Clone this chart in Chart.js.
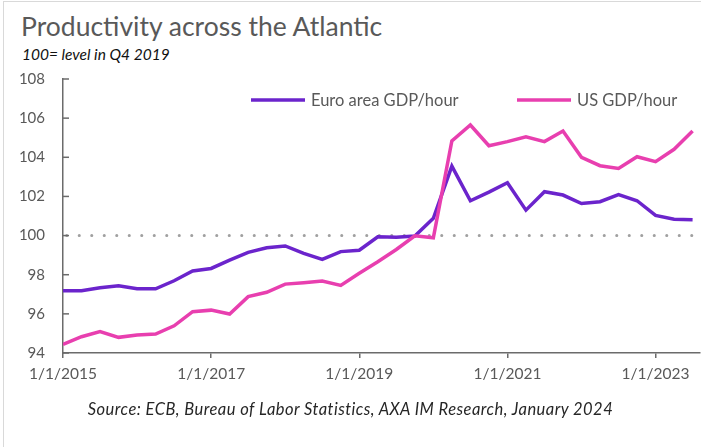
<!DOCTYPE html>
<html>
<head>
<meta charset="utf-8">
<script src="https://cdn.jsdelivr.net/npm/chart.js@4/dist/chart.umd.min.js"></script>
<style>
  body { margin: 0; background: #fff; font-family: Lato, "Liberation Sans", sans-serif; }
  #wrap { position: relative; width: 701px; height: 447px; overflow: hidden; }
  #frame { position: absolute; left: 3px; top: 1px; width: 720px; height: 460px; border: 1px solid #d9d9d9; }
  #title { position: absolute; left: 21px; top: 10px; font-size: 26.5px; color: #595959; white-space: nowrap; }
  #subtitle { position: absolute; left: 22px; top: 45px; font-size: 15.5px; font-style: italic; color: #111; white-space: nowrap; }
  #source { position: absolute; left: 0; width: 701px; top: 399px; text-align: center; font-size: 16.5px; letter-spacing: 0.45px; font-style: italic; color: #262626; white-space: nowrap; }
  canvas { position: absolute; left: 0; top: 0; }
</style>
</head>
<body>
<div id="wrap">
  <div id="frame"></div>
  <div id="title">Productivity across the Atlantic</div>
  <div id="subtitle">100= level in Q4 2019</div>
  <canvas id="chart" width="701" height="447"></canvas>
  <div id="source">Source: ECB, Bureau of Labor Statistics, AXA IM Research, January 2024</div>
</div>
<script>
// -----------------------------
// Data (quarterly, 100 = Q4 2019)
// -----------------------------
const quarters = [
  "1/1/2015", "4/1/2015", "7/1/2015", "10/1/2015",
  "1/1/2016", "4/1/2016", "7/1/2016", "10/1/2016",
  "1/1/2017", "4/1/2017", "7/1/2017", "10/1/2017",
  "1/1/2018", "4/1/2018", "7/1/2018", "10/1/2018",
  "1/1/2019", "4/1/2019", "7/1/2019", "10/1/2019",
  "1/1/2020", "4/1/2020", "7/1/2020", "10/1/2020",
  "1/1/2021", "4/1/2021", "7/1/2021", "10/1/2021",
  "1/1/2022", "4/1/2022", "7/1/2022", "10/1/2022",
  "1/1/2023", "4/1/2023", "7/1/2023"
];
const euroArea = [
  97.18, 97.18, 97.33, 97.44, 97.28, 97.28, 97.69, 98.19,
  98.32, 98.75, 99.14, 99.38, 99.47, 99.09, 98.78, 99.18,
  99.25, 99.94, 99.91, 99.98, 100.88, 103.55, 101.78, 102.22,
  102.70, 101.30, 102.24, 102.07, 101.64, 101.73, 102.09, 101.78,
  101.03, 100.84, 100.81
];
const usGdp = [
  94.44, 94.83, 95.09, 94.80, 94.92, 94.97, 95.39, 96.11,
  96.19, 95.99, 96.88, 97.10, 97.52, 97.59, 97.68, 97.45,
  98.07, 98.66, 99.29, 99.99, 99.89, 104.83, 105.65, 104.59,
  104.80, 105.05, 104.80, 105.34, 104.00, 103.57, 103.43, 104.03,
  103.78, 104.41, 105.34
];
const seriesNames = ["Euro area GDP/hour", "US GDP/hour"];
const tickLabels = ["1/1/2015", "1/1/2017", "1/1/2019", "1/1/2021", "1/1/2023"];
const yTicks = [94, 96, 98, 100, 102, 104, 106, 108];
const baseLevel = 100;

const PURPLE = "#6B24CC";
const PINK = "#E83FAF";
const AXIS = "#6b6b6b";
const TEXT = "#595959";
const FONT = "Lato, 'Liberation Sans', sans-serif";

const toPoints = arr => arr.map((v, i) => ({ x: i, y: v }));
const xMax = quarters.length - 0.6;

// -----------------------------
// Legend inside the plot (drawn from datasets)
// -----------------------------
const innerLegend = {
  id: "innerLegend",
  afterDraw(chart) {
    const ctx = chart.ctx;
    const area = chart.chartArea;
    const y = area.top + 21;
    const starts = [area.left + 188, area.left + 454];
    ctx.save();
    ctx.font = "16.5px " + FONT;
    ctx.textBaseline = "middle";
    [0, 1].forEach((di, k) => {
      const ds = chart.data.datasets[di];
      ctx.strokeStyle = ds.borderColor;
      ctx.lineWidth = 3.5;
      ctx.beginPath();
      ctx.moveTo(starts[k], y);
      ctx.lineTo(starts[k] + 54, y);
      ctx.stroke();
      ctx.fillStyle = TEXT;
      ctx.fillText(ds.label, starts[k] + 60, y + 1);
    });
    ctx.restore();
  }
};

// small inside tick marks on the y axis
const yInsideTicks = {
  id: "yInsideTicks",
  afterDatasetsDraw(chart) {
    const ctx = chart.ctx;
    const ys = chart.scales.y;
    const left = chart.chartArea.left;
    ctx.save();
    ctx.strokeStyle = AXIS;
    ctx.lineWidth = 1.5;
    ys.ticks.forEach(t => {
      const py = ys.getPixelForValue(t.value);
      ctx.beginPath();
      ctx.moveTo(left, py);
      ctx.lineTo(left + 6, py);
      ctx.stroke();
    });
    ctx.restore();
  }
};

const ctx = document.getElementById("chart").getContext("2d");
new Chart(ctx, {
  type: "line",
  data: {
    datasets: [
      {
        label: seriesNames[0],
        data: toPoints(euroArea),
        borderColor: PURPLE,
        borderWidth: 3.5,
        pointRadius: 0,
        tension: 0,
        order: 1
      },
      {
        label: seriesNames[1],
        data: toPoints(usGdp),
        borderColor: PINK,
        borderWidth: 3.5,
        pointRadius: 0,
        tension: 0,
        order: 0
      },
      {
        label: "base",
        data: [{ x: 0.2, y: baseLevel }, { x: xMax - 0.2, y: baseLevel }],
        borderColor: "#a0a0a0",
        borderWidth: 3,
        borderDash: [0.1, 12.4],
        borderCapStyle: "round",
        pointRadius: 0,
        order: 2
      }
    ]
  },
  options: {
    responsive: false,
    animation: false,
    layout: { padding: { left: 0, top: 79, right: 1, bottom: 54 } },
    plugins: {
      legend: { display: false },
      title: { display: false },
      tooltip: { enabled: false }
    },
    scales: {
      x: {
        type: "linear",
        min: 0,
        max: xMax,
        afterBuildTicks: s => {
          s.ticks = tickLabels.map(l => ({ value: quarters.indexOf(l) }));
        },
        afterFit: s => { s.height = 40; },
        border: { display: true, color: AXIS, width: 1.5 },
        grid: { drawOnChartArea: false, drawTicks: true, tickLength: 5, color: AXIS, lineWidth: 1.5 },
        ticks: {
          autoSkip: false,
          maxRotation: 0,
          padding: 7,
          color: TEXT,
          font: { family: FONT, size: 15.5 },
          callback: v => quarters[v]
        }
      },
      y: {
        min: yTicks[0],
        max: yTicks[yTicks.length - 1],
        afterBuildTicks: s => {
          s.ticks = yTicks.map(v => ({ value: v }));
        },
        afterFit: s => { s.width = 63; },
        border: { display: true, color: AXIS, width: 1.5 },
        grid: { display: false, drawTicks: false },
        ticks: {
          padding: 18,
          color: TEXT,
          font: { family: FONT, size: 15 }
        }
      }
    }
  },
  plugins: [innerLegend, yInsideTicks]
});
</script>
</body>
</html>
